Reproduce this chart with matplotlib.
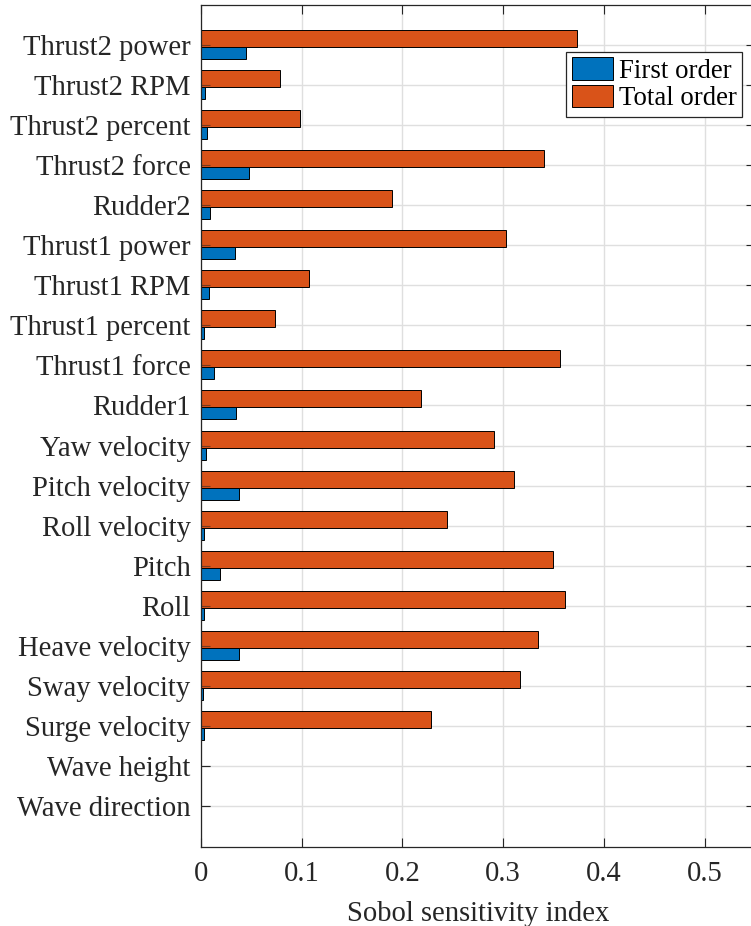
import matplotlib
matplotlib.use("Agg")
import matplotlib.pyplot as plt
import numpy as np

# Input parameters, listed bottom to top as they appear on the y axis
params = [
    "Wave direction", "Wave height", "Surge velocity", "Sway velocity",
    "Heave velocity", "Roll", "Pitch", "Roll velocity", "Pitch velocity",
    "Yaw velocity", "Rudder1", "Thrust1 force", "Thrust1 percent",
    "Thrust1 RPM", "Thrust1 power", "Rudder2", "Thrust2 force",
    "Thrust2 percent", "Thrust2 RPM", "Thrust2 power",
]

# Sobol indices per parameter (same order as params)
first_order = [
    0.0, 0.0, 0.0033, 0.0019, 0.0374, 0.0026, 0.0189, 0.0026, 0.0381,
    0.0051, 0.0352, 0.0125, 0.0033, 0.0075, 0.0338, 0.0093, 0.0476,
    0.0058, 0.0040, 0.0448,
]
total_order = [
    0.0, 0.0, 0.2287, 0.3171, 0.3344, 0.3618, 0.3493, 0.2446, 0.3103,
    0.2908, 0.2188, 0.3562, 0.0736, 0.1076, 0.3029, 0.1893, 0.3409,
    0.0984, 0.0782, 0.3728,
]
series_labels = ["First order", "Total order"]
xticks = [0, 0.1, 0.2, 0.3, 0.4, 0.5]

BLUE = "#0072BD"
ORANGE = "#D95319"
AX_COLOR = "#262626"
GRID_COLOR = "#DFDFDF"

plt.rcParams["font.family"] = ["Liberation Serif", "DejaVu Serif"]
plt.rcParams["font.size"] = 20.6

W, H = 751, 926
fig = plt.figure(figsize=(W / 100, H / 100), dpi=100)
left, right, top, bottom = 201, 755, 4.5, 846.5
ax = fig.add_axes([left / W, 1 - bottom / H, (right - left) / W, (bottom - top) / H])

y = np.arange(1, len(params) + 1)
bt = ax.barh(y + 0.162, total_order, height=0.424, color=ORANGE,
             edgecolor="black", linewidth=0.7, label=series_labels[1], zorder=2)
bf = ax.barh(y - 0.2, first_order, height=0.30, color=BLUE,
             edgecolor="black", linewidth=0.7, label=series_labels[0], zorder=2)

ax.set_xlim(0, 0.55)
ax.set_ylim(0, len(params) + 1)
ax.set_yticks(y)
ax.set_yticklabels(params)
ax.set_xticks(xticks)
ax.set_xticklabels([f"{v:g}" for v in xticks])

ax.set_axisbelow(True)
ax.grid(True, color=GRID_COLOR, linewidth=1.0)
for s in ax.spines.values():
    s.set_color(AX_COLOR)
    s.set_linewidth(0.9)
ax.tick_params(axis="both", which="major", direction="in", length=6.5,
               width=0.8, color=AX_COLOR, labelcolor=AX_COLOR,
               top=True, right=True)
ax.tick_params(axis="y", pad=7.5)
ax.tick_params(axis="x", pad=10.5)

# short tick dashes on the left that sit on top of the bars
for yy in y:
    ax.plot([0, 0.009], [yy, yy], color=AX_COLOR, linewidth=0.8,
            alpha=0.55, zorder=3, solid_capstyle="butt")

ax.set_xlabel("Sobol sensitivity index", color=AX_COLOR, labelpad=10)

leg = ax.legend([bf, bt], series_labels, loc="upper right",
                bbox_to_anchor=(742 / W, 1 - 52 / H),
                bbox_transform=fig.transFigure, borderaxespad=0,
                fancybox=False, framealpha=1, edgecolor=AX_COLOR,
                fontsize=19.3, handlelength=1.55, handleheight=0.9,
                handletextpad=0.2, borderpad=0.2, labelspacing=0.05)
leg.get_frame().set_linewidth(0.9)

fig.savefig("out.png", dpi=100)
